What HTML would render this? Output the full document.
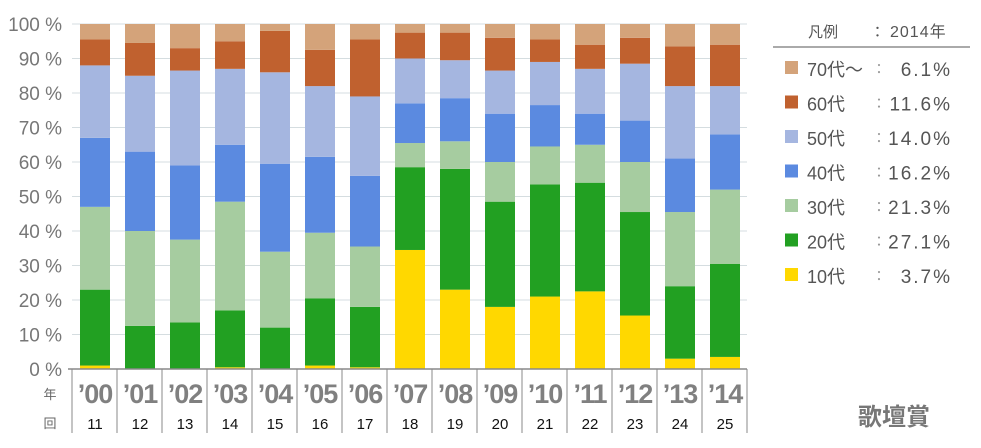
<!DOCTYPE html><html><head><meta charset="utf-8"><style>body{margin:0;background:#fff}svg{display:block}text{font-family:"Liberation Sans","Noto Sans CJK JP",sans-serif}</style></head><body>
<svg width="981" height="448" xmlns="http://www.w3.org/2000/svg" id="s">
<g id="grid"></g><g id="bars"></g><g id="ax"></g>
<g font-size="15" fill="#555">
<text x="808" y="37">凡例</text><text x="870" y="37">：</text><text x="890" y="37" font-size="16" letter-spacing="1">2014年</text>
<line x1="773" y1="47" x2="970" y2="47" stroke="#555"/>
</g><g id="leg"></g>
<text x="858" y="425" font-size="24" font-weight="bold" fill="#777">歌壇賞</text>
</svg>
<script>
const C=["#ffd800","#22a022","#a6cca0","#5b8ae0","#a5b6e0","#c0612f","#d4a37a"];
const D=[[1,23,47,67,88,95.5],[0,12.5,40,63,85,94.5],[0,13.5,37.5,59,86.5,93],[0.5,17,48.5,65,87,95],[0,12,34,59.5,86,98],[1,20.5,39.5,61.5,82,92.5],[0.5,18,35.5,56,79,95.5],[34.5,58.5,65.5,77,90,97.5],[23,58,66,78.5,89.5,97.5],[18,48.5,60,74,86.5,96],[21,53.5,64.5,76.5,89,95.5],[22.5,54,65,74,87,94],[15.5,45.5,60,72,88.5,96],[3,24,45.5,61,82,93.5],[3.5,30.5,52,68,82,94]];
const y=p=>369-p*3.45;let g="",b="",a="";
for(let i=0;i<=10;i++){g+=`<line x1="72" x2="747" y1="${y(i*10)}" y2="${y(i*10)}" stroke="#d5dde0"/>`;a+=`<text x="62" y="${y(i*10)+7}" text-anchor="end" font-size="19" fill="#777">${i*10} %</text>`}
D.forEach((d,i)=>{const x=80+i*45;const c=[0,...d,100];for(let k=0;k<7;k++){const h=(c[k+1]-c[k])*3.45;if(h>0)b+=`<rect x="${x}" y="${y(c[k+1])}" width="30" height="${h}" fill="${C[k]}"/>`}
a+=`<text x="${x+15}" y="403" text-anchor="middle" font-size="27" font-weight="bold" fill="#808080" letter-spacing="-1">’${String(i).padStart(2,"0")}</text>`;
a+=`<text x="${x+15}" y="429" text-anchor="middle" font-size="15" fill="#111">${11+i}</text>`});
for(let i=0;i<=15;i++)a+=`<line x1="${72+i*45}" x2="${72+i*45}" y1="369" y2="433" stroke="#888"/>`;
a+=`<line x1="68" x2="747" y1="369" y2="369" stroke="#888" stroke-width="1.5"/><text x="50" y="399" text-anchor="middle" font-size="13" fill="#666">年</text><text x="50" y="428" text-anchor="middle" font-size="13" fill="#666">回</text>`;
const L=[["70代〜","6.1%"],["60代","11.6%"],["50代","14.0%"],["40代","16.2%"],["30代","21.3%"],["20代","27.1%"],["10代","3.7%"]];let l="";
L.forEach((e,i)=>{const yy=72+i*34.5;l+=`<rect x="785" y="${yy-11}" width="13" height="13" fill="${C[6-i]}"/><text x="807" y="${yy+4}" font-size="18" fill="#555">${e[0]}</text><text x="872" y="${yy+2}" font-size="14" fill="#999">：</text><text x="952" y="${yy+4}" font-size="19" fill="#555" text-anchor="end" letter-spacing="2">${e[1]}</text>`});
s.querySelector("#grid").innerHTML=g;s.querySelector("#bars").innerHTML=b;s.querySelector("#ax").innerHTML=a;s.querySelector("#leg").innerHTML=l;
</script></body></html>
